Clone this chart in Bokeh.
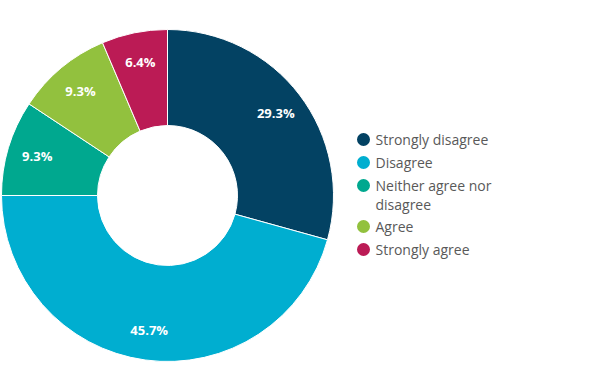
import math
from bokeh.plotting import figure
from bokeh.models import Range1d, ColumnDataSource
from bokeh.core.properties import value
from bokeh.embed import file_html
from bokeh.resources import INLINE

categories = ["Strongly disagree", "Disagree", "Neither agree nor disagree", "Agree", "Strongly agree"]
legend_labels = ["Strongly disagree", "Disagree", "Neither agree nor\ndisagree", "Agree", "Strongly agree"]
values = [29.3, 45.7, 9.3, 9.3, 6.4]
colors = ["#034263", "#00aed0", "#00a88f", "#92c13e", "#bb1b55"]

W, H = 583, 374
cx, cy = 167, H - 195
r_out, r_in, r_lab = 166, 70, 136

total = sum(values)
starts, ends, lx, ly, texts = [], [], [], [], []
acc = 0.0
for v in values:
    a0 = math.pi / 2 - 2 * math.pi * acc / total
    a1 = math.pi / 2 - 2 * math.pi * (acc + v) / total
    starts.append(a0)
    ends.append(a1)
    mid = (a0 + a1) / 2
    lx.append(cx + r_lab * math.cos(mid))
    ly.append(cy + r_lab * math.sin(mid))
    texts.append(f"{v:.1f}%")
    acc += v

p = figure(width=W, height=H, output_backend="svg", toolbar_location=None,
           x_range=Range1d(0, W), y_range=Range1d(0, H), min_border=0)
p.axis.visible = False
p.grid.visible = False
p.outline_line_color = None
p.background_fill_color = "white"

src = ColumnDataSource(dict(start=starts, end=ends, color=colors, x=[cx] * 5, y=[cy] * 5))
p.annular_wedge(x="x", y="y", inner_radius=r_in, outer_radius=r_out,
                start_angle="start", end_angle="end", direction="clock",
                fill_color="color", line_color="white", line_width=1, source=src)

p.text(x=lx, y=ly, text=texts, text_color="white", text_font=value("Open Sans"),
       text_font_size="13px", text_font_style="bold", text_align="center",
       text_baseline="middle")

# legend
mx, tx = 363, 375
row_y = []
y = H - 139
for lab in legend_labels:
    row_y.append(y)
    y -= 23 + 18 * lab.count("\n")
p.scatter(x=[mx] * 5, y=row_y, size=13, marker="circle", fill_color=colors, line_color=None)
p.text(x=[tx] * 5, y=[yy + 10 for yy in row_y], text=legend_labels, text_color="#595959",
       text_font=value("Open Sans"), text_font_size="14px", text_align="left",
       text_baseline="top", text_line_height=1.0)

open("out.html", "w").write(file_html(p, INLINE))
